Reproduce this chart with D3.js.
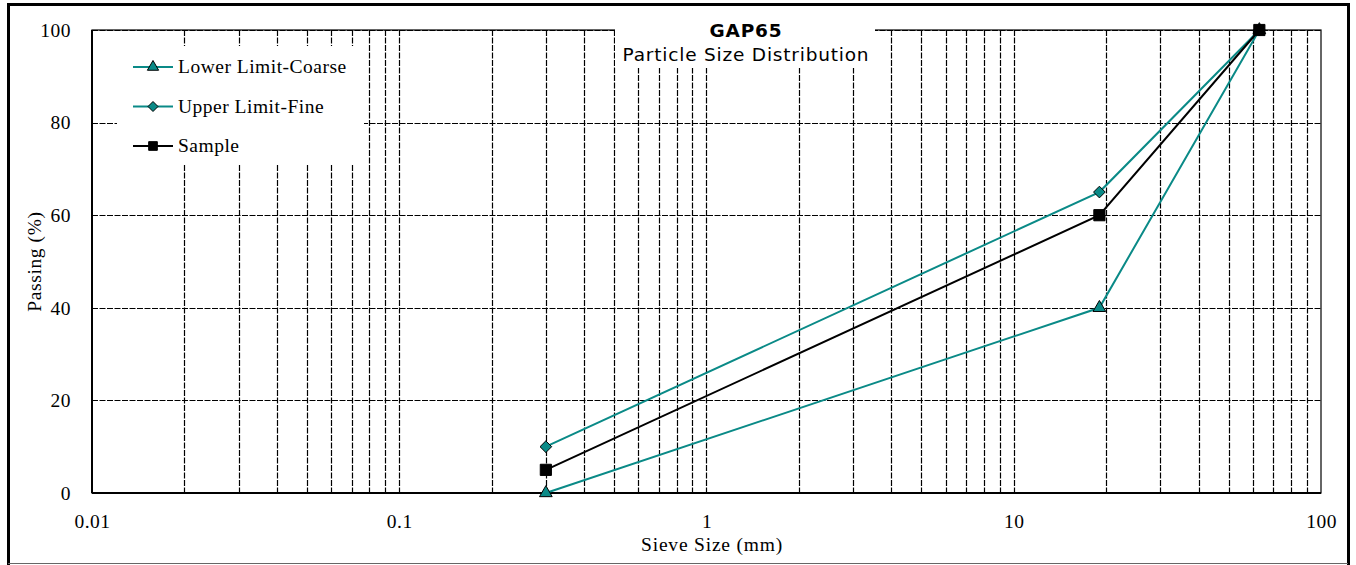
<!DOCTYPE html>
<html>
<head>
<meta charset="utf-8">
<script src="https://cdn.jsdelivr.net/npm/d3@7"></script>
<style>
  body { margin: 0; background: #fff; }
  svg { display: block; }
</style>
</head>
<body>
<script>
// sieve sizes (mm) and percent passing
const sieves = [0.3, 19, 63];
const lowerCoarse = [0, 40, 100];
const upperFine = [10, 65, 100];
const sample = [5, 60, 100];
const yTicks = [0, 20, 40, 60, 80, 100];
const xTicks = [0.01, 0.1, 1, 10, 100];
const xTickLabels = ['0.01', '0.1', '1', '10', '100'];

const W = 1356, H = 565;
const margin = { left: 92, right: 35, top: 30, bottom: 72 };
const teal = '#0a8a87';
const serif = '"Liberation Serif", "DejaVu Serif", serif';
const sans = '"DejaVu Sans", "Open Sans", sans-serif';

const svg = d3.select('body').append('svg')
    .attr('width', W)
    .attr('height', H);

const x = d3.scaleLog().domain([0.01, 100]).range([margin.left, W - margin.right]);
const y = d3.scaleLinear().domain([0, 100]).range([H - margin.bottom, margin.top]);

// outer frame
svg.append('rect')
    .attr('x', 0).attr('y', 0).attr('width', W).attr('height', H)
    .attr('fill', '#fff');
svg.append('path')
    .attr('d', `M8.5,565 V4.5 H1348.5 V565`)
    .attr('fill', 'none').attr('stroke', '#000').attr('stroke-width', 3);
svg.append('line')
    .attr('x1', 8).attr('x2', 1348).attr('y1', 563.5).attr('y2', 563.5)
    .attr('stroke', '#666').attr('stroke-width', 1);

// vertical grid at every 1..9 x decade
let vGrid = [];
for (let e = -2; e < 2; e++) {
    for (let m = 1; m < 10; m++) vGrid.push(m * Math.pow(10, e));
}
svg.append('g')
    .selectAll('line')
    .data(vGrid.slice(1))
    .enter()
    .append('line')
    .attr('x1', d => Math.round(x(d)) + 0.5)
    .attr('x2', d => Math.round(x(d)) + 0.5)
    .attr('y1', y(100))
    .attr('y2', y(0))
    .attr('stroke', '#000')
    .attr('stroke-width', 1.2)
    .attr('stroke-dasharray', '6,1.5');

svg.append('g')
    .selectAll('line')
    .data(yTicks.slice(1))
    .enter()
    .append('line')
    .attr('x1', x(0.01))
    .attr('x2', x(100))
    .attr('y1', d => Math.round(y(d)) + 0.5)
    .attr('y2', d => Math.round(y(d)) + 0.5)
    .attr('stroke', '#000')
    .attr('stroke-width', 1.2)
    .attr('stroke-dasharray', '6,1.5');

// plot frame
svg.append('rect')
    .attr('x', x(0.01)).attr('y', y(100))
    .attr('width', x(100) - x(0.01)).attr('height', y(0) - y(100))
    .attr('fill', 'none').attr('stroke', '#000').attr('stroke-width', 1.2);
svg.append('line')
    .attr('x1', x(0.01)).attr('x2', x(100))
    .attr('y1', y(0)).attr('y2', y(0))
    .attr('stroke', '#000').attr('stroke-width', 2.2);
svg.append('line')
    .attr('x1', x(0.01)).attr('x2', x(0.01))
    .attr('y1', y(0)).attr('y2', y(100))
    .attr('stroke', '#000').attr('stroke-width', 2);

// legend and title boxes hide the grid
svg.append('rect')
    .attr('x', 117).attr('y', 46).attr('width', 247).attr('height', 119)
    .attr('fill', '#fff');
svg.append('rect')
    .attr('x', 615).attr('y', 22).attr('width', 260).attr('height', 46)
    .attr('fill', '#fff');

// axes (labels only)
const yAxis = svg.append('g')
    .attr('transform', `translate(${x(0.01)},0)`)
    .call(d3.axisLeft(y).tickValues(yTicks).tickSize(0).tickPadding(21));
yAxis.select('.domain').remove();
yAxis.selectAll('text')
    .attr('font-family', serif).attr('font-size', 19.5).attr('fill', '#000')
    .attr('letter-spacing', 0.5);

const xAxis = svg.append('g')
    .attr('transform', `translate(0,${y(0)})`)
    .call(d3.axisBottom(x).tickValues(xTicks)
        .tickFormat((d, i) => xTickLabels[i]).tickSize(0).tickPadding(21));
xAxis.select('.domain').remove();
xAxis.selectAll('text')
    .attr('font-family', serif).attr('font-size', 19.5).attr('fill', '#000')
    .attr('letter-spacing', 0.5);

svg.append('text')
    .attr('transform', 'rotate(-90)')
    .attr('x', -(y(0) + y(100)) / 2)
    .attr('y', 41)
    .attr('text-anchor', 'middle')
    .attr('font-family', serif).attr('font-size', 19.5)
    .attr('letter-spacing', 0.6)
    .text('Passing (%)');

svg.append('text')
    .attr('x', 712)
    .attr('y', 551)
    .attr('text-anchor', 'middle')
    .attr('font-family', serif).attr('font-size', 19.5)
    .attr('letter-spacing', 0.8)
    .text('Sieve Size (mm)');

// title
svg.append('text')
    .attr('x', 746).attr('y', 37)
    .attr('text-anchor', 'middle')
    .attr('font-family', sans)
    .attr('font-weight', 'bold').attr('font-size', 18.5)
    .attr('letter-spacing', 0.8)
    .text('GAP65');
svg.append('text')
    .attr('x', 746).attr('y', 61)
    .attr('text-anchor', 'middle')
    .attr('font-family', sans)
    .attr('font-size', 18.5)
    .attr('letter-spacing', 0.8)
    .text('Particle Size Distribution');

// square diamond like the source marker
const diamond = {
    draw(ctx, size) {
        const r = Math.sqrt(size / 2);
        ctx.moveTo(0, -r);
        ctx.lineTo(r, 0);
        ctx.lineTo(0, r);
        ctx.lineTo(-r, 0);
        ctx.closePath();
    }
};

// series
const series = [
    { name: 'Lower Limit-Coarse', values: lowerCoarse, color: teal, shape: d3.symbolTriangle, size: 70, lsize: 55 },
    { name: 'Upper Limit-Fine', values: upperFine, color: teal, shape: diamond, size: 68, lsize: 50 },
    { name: 'Sample', values: sample, color: '#000', shape: d3.symbolSquare, size: 125, lsize: 75 }
];

const line = d3.line()
    .x(d => x(d[0]))
    .y(d => y(d[1]));

series.forEach(s => {
    const pts = sieves.map((v, i) => [v, s.values[i]]);
    svg.append('path')
        .datum(pts)
        .attr('d', line)
        .attr('fill', 'none')
        .attr('stroke', s.color)
        .attr('stroke-width', 2);
    svg.append('g')
        .selectAll('path')
        .data(pts)
        .enter()
        .append('path')
        .attr('transform', d => `translate(${x(d[0])},${y(d[1])})`)
        .attr('d', d3.symbol().type(s.shape).size(s.size))
        .attr('fill', s.color)
        .attr('stroke', '#000')
        .attr('stroke-width', 1);
});

// legend
const legend = svg.append('g');
series.forEach((s, i) => {
    const ly = 67 + i * 39.5;
    legend.append('line')
        .attr('x1', 133).attr('x2', 173)
        .attr('y1', ly).attr('y2', ly)
        .attr('stroke', s.color).attr('stroke-width', 2);
    legend.append('path')
        .attr('transform', `translate(153,${ly})`)
        .attr('d', d3.symbol().type(s.shape).size(s.lsize))
        .attr('fill', s.color)
        .attr('stroke', '#000')
        .attr('stroke-width', 1);
    legend.append('text')
        .attr('x', 178).attr('y', ly + 6)
        .attr('font-family', serif).attr('font-size', 19.5)
        .attr('letter-spacing', 0.5)
        .text(s.name);
});
</script>
</body>
</html>
